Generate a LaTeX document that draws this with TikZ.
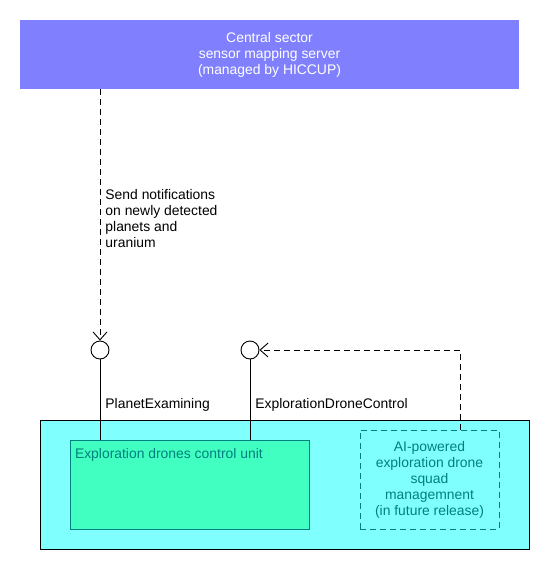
\documentclass[tikz,border=0pt]{standalone}
\usepackage{fontspec}
\setmainfont{Liberation Sans}
\usetikzlibrary{arrows.meta,positioning}
\definecolor{Sc}{HTML}{8080FF}
\definecolor{Oc}{HTML}{80FFFF}
\definecolor{Uc}{HTML}{40FFC0}
\definecolor{Tc}{HTML}{008080}
\tikzset{
  txt/.style={font=\fontsize{13.9}{16}\selectfont, inner sep=0pt},
  srv/.style={rectangle, fill=Sc, text=white, align=center, txt, minimum width=499pt, minimum height=69pt},
  sysbox/.style={rectangle, fill=Oc, draw=black, minimum width=489pt, minimum height=129pt},
  unitbox/.style={rectangle, fill=Uc, draw=Tc, minimum width=239pt, minimum height=89pt},
  aibox/.style={rectangle, draw=Tc, dash pattern=on 6pt off 4pt, text=Tc, align=center, txt, minimum width=139pt, minimum height=99pt},
  iface/.style={circle, draw=black, fill=white, inner sep=0pt, minimum size=18pt},
  dep/.style={dash pattern=on 6pt off 4pt, -{Straight Barb[length=8pt, width=14pt]}},
}

\begin{document}
\begin{tikzpicture}[x=1pt, y=-1pt, line width=0.9pt]
  \useasboundingbox (0,0) rectangle (550,570);
  \node[srv] (server) at (269.5,54.5) {Central sector\\ sensor mapping server\\ (managed by HICCUP)};
  \node[sysbox] (sys) at (284.5,484.5) {};
  \node[unitbox, label={[txt, text=Tc, anchor=north west, xshift=5pt, yshift=-8pt]north west:Exploration drones control unit}] (unit) at (189.5,484.5) {};
  \node[aibox] (ai) at (429.5,479.5) {AI-powered\\ exploration drone\\ squad\\ managemnent\\ (in future release)};
  \node[iface] (pe) at (100,350) {};
  \node[iface] (edc) at (250,350) {};
  \node[txt, anchor=base west] (pelbl) at (105,408) {PlanetExamining};
  \node[txt, anchor=base west] (edclbl) at (255,408) {ExplorationDroneControl};
  \node[txt, anchor=north west, align=left] (note) at (105,189) {Send notifications\\ on newly detected\\ planets and\\ uranium};
  \draw (pe) -- (pe |- unit.north);
  \draw (edc) -- (edc |- unit.north);
  \draw[dep] (server.south -| pe) -- (pe);
  \draw[dep] ([xshift=30.5pt]ai.north) |- (edc);
\end{tikzpicture}
\end{document}
